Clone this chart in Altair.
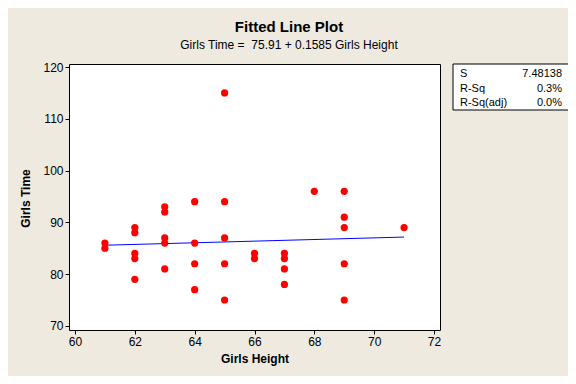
import altair as alt
import pandas as pd

# ---- data ----
heights = [61, 61, 62, 62, 62, 62, 62, 63, 63, 63, 63, 63, 64, 64, 64, 64,
           65, 65, 65, 65, 65, 66, 66, 67, 67, 67, 67, 68, 69, 69, 69, 69, 69, 71]
times = [86, 85, 89, 88, 84, 83, 79, 93, 92, 87, 86, 81, 94, 86, 82, 77,
         115, 94, 87, 82, 75, 84, 83, 84, 83, 81, 78, 96, 96, 91, 89, 82, 75, 89]

fit_x = [61, 71]
fit_y = [85.58, 87.16]

stat_names = ["S", "R-Sq", "R-Sq(adj)"]
stat_values = ["7.48138", "0.3%", "0.0%"]

title_text = "Fitted Line Plot"
subtitle_text = "Girls Time =\u00a0 75.91 + 0.1585 Girls Height"
x_title = "Girls Height"
y_title = "Girls Time"
x_ticks = [60, 62, 64, 66, 68, 70, 72]
y_ticks = [70, 80, 90, 100, 110, 120]

pts = pd.DataFrame({"h": heights, "t": times})
fit = pd.DataFrame({"h": fit_x, "t": fit_y})
one = alt.Data(values=[{}])

FONT = "Liberation Sans"
W, H = 371, 266

xs = alt.Scale(domain=[59.8, 72.2], nice=False, zero=False)
ys = alt.Scale(domain=[69.2, 120.6], nice=False, zero=False)

points = alt.Chart(pts).mark_circle(size=52, opacity=1, color="#FF0000").encode(
    x=alt.X("h:Q", scale=xs,
            axis=alt.Axis(values=x_ticks, title=x_title, titleX=185.5, titleY=28,
                          titleBaseline="middle", titleAlign="center")),
    y=alt.Y("t:Q", scale=ys,
            axis=alt.Axis(values=y_ticks, title=y_title, titleX=-44, titleY=134,
                          titleAngle=270, titleBaseline="middle", titleAlign="center")),
)

line = alt.Chart(fit).mark_line(color="#0000FF", strokeWidth=1).encode(
    x=alt.X("h:Q", scale=xs), y=alt.Y("t:Q", scale=ys)
)

layers = [line, points]

# titles
layers.append(alt.Chart(one).mark_text(text=title_text, font=FONT, fontSize=15,
                                       fontWeight="bold", color="#000000",
                                       align="center", baseline="middle")
              .encode(x=alt.value(220), y=alt.value(-37)))
layers.append(alt.Chart(one).mark_text(text=subtitle_text, font=FONT, fontSize=12,
                                       color="#000000", align="center", baseline="middle")
              .encode(x=alt.value(220), y=alt.value(-19)))

# stats box
layers.append(alt.Chart(one).mark_rect(fill="#FFFFFF", stroke="#000000", strokeWidth=1)
              .encode(x=alt.value(384), x2=alt.value(500), y=alt.value(0), y2=alt.value(46)))
for i, (n, v) in enumerate(zip(stat_names, stat_values)):
    yy = 10 + i * 14.5
    layers.append(alt.Chart(one).mark_text(text=n, font=FONT, fontSize=11, color="#000000",
                                           align="left", baseline="middle")
                  .encode(x=alt.value(391), y=alt.value(yy)))
    layers.append(alt.Chart(one).mark_text(text=v, font=FONT, fontSize=11, color="#000000",
                                           align="right", baseline="middle")
                  .encode(x=alt.value(493), y=alt.value(yy)))

chart = alt.layer(*layers).properties(
    width=W, height=H,
    autosize=alt.AutoSizeParams(type="none"),
    padding={"left": 61, "top": 56, "right": 128, "bottom": 46},
    background="#EEEAE0",
).configure_view(
    fill="#FFFFFF", stroke="#000000", strokeWidth=1
).configure_axis(
    grid=False, domain=False, tickColor="#000000", tickSize=4, tickWidth=1,
    labelFont=FONT, labelFontSize=12, labelColor="#000000", labelPadding=2,
    titleFont=FONT, titleFontSize=12, titleFontWeight="bold", titleColor="#000000",
)

chart.save("out.html", embed_options={"renderer": "svg", "actions": False})
